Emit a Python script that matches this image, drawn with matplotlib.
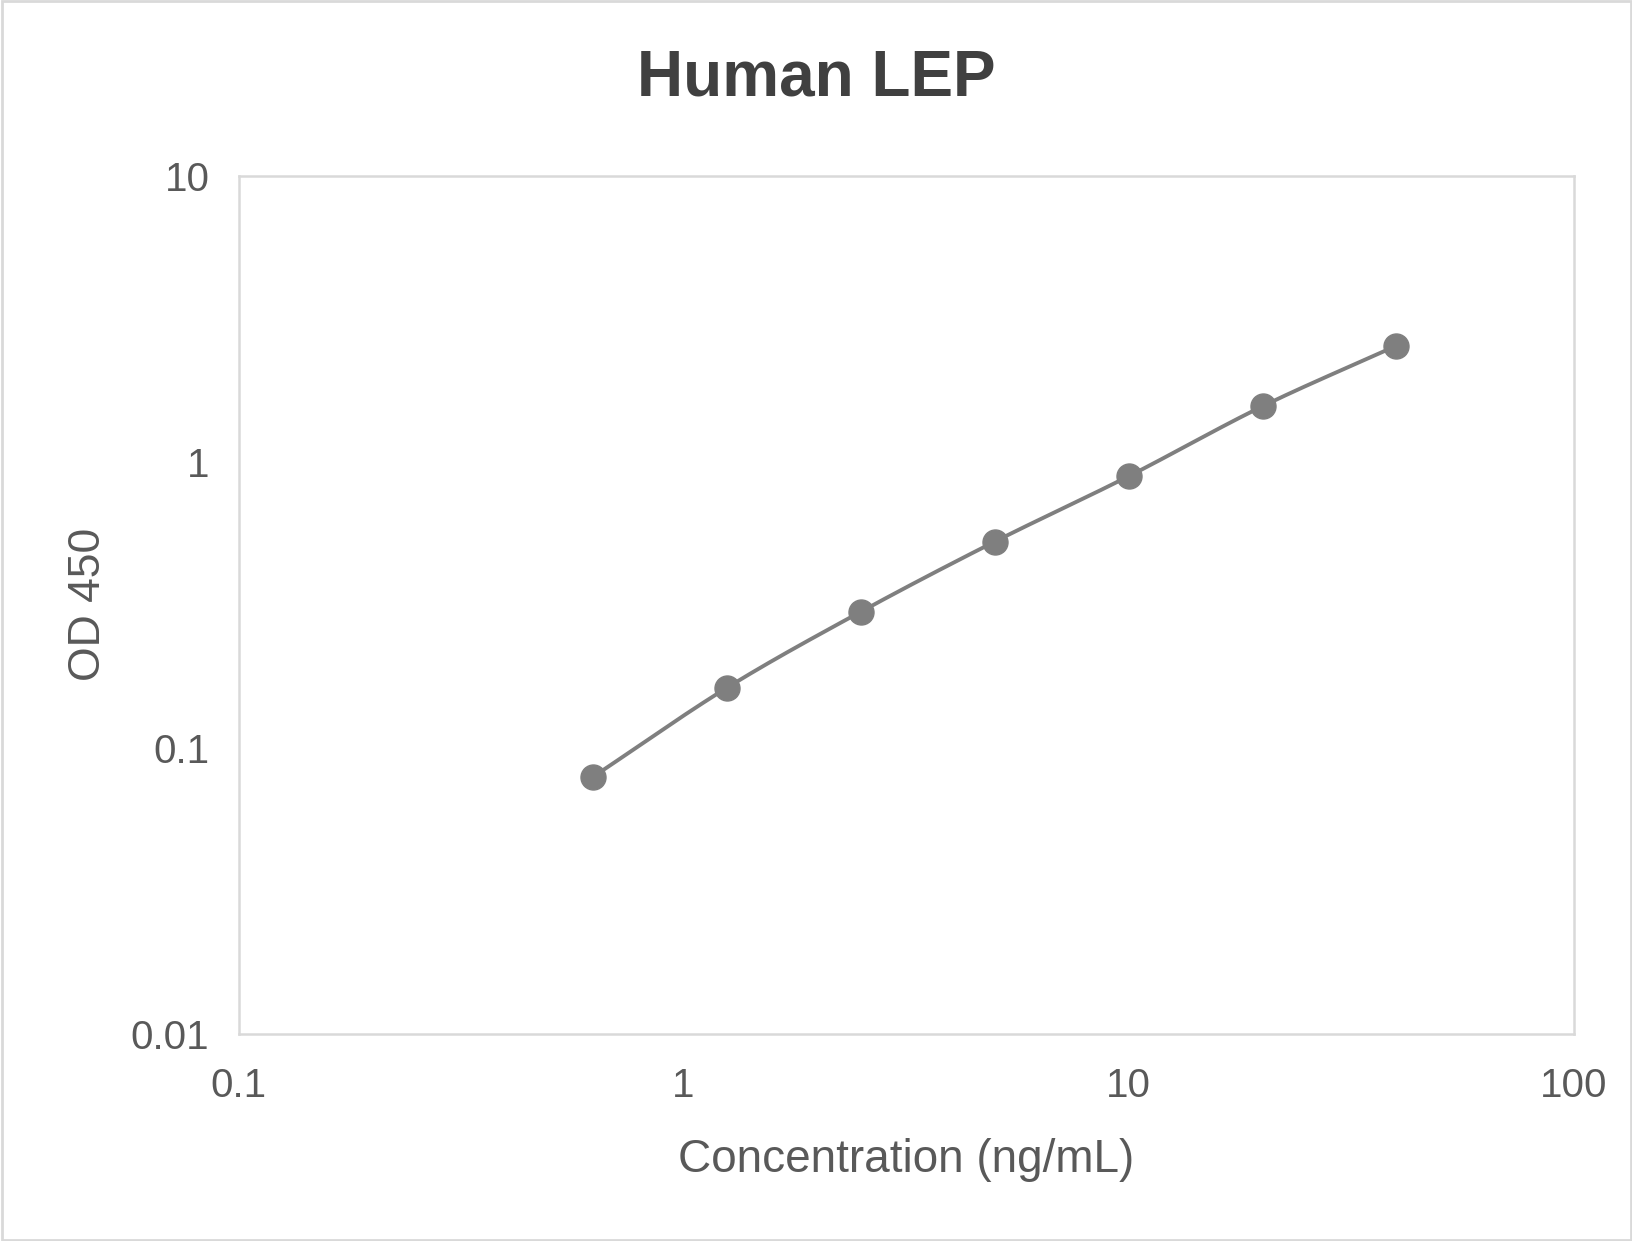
import numpy as np
import matplotlib
matplotlib.use('Agg')
import matplotlib.pyplot as plt
from matplotlib.patches import Rectangle

plt.rcParams['font.family'] = ['Liberation Sans', 'DejaVu Sans']

# standard curve
concentration = [0.625, 1.25, 2.5, 5, 10, 20, 40]
od450 = [0.079, 0.162, 0.299, 0.526, 0.891, 1.566, 2.55]

TEXT = '#595959'
LINE = '#7f7f7f'
SPINE = '#d9d9d9'


def smoothLine(x, y, n=30):
    # catmull-rom through the points in log space, like Excel's smoothed line
    lx = np.log10(x)
    ly = np.log10(y)
    px = np.concatenate([[2*lx[0]-lx[1]], lx, [2*lx[-1]-lx[-2]]])
    py = np.concatenate([[2*ly[0]-ly[1]], ly, [2*ly[-1]-ly[-2]]])
    outx, outy = [], []
    t = np.linspace(0, 1, n)
    for i in range(1, len(px)-2):
        for p, out in ((px, outx), (py, outy)):
            p0, p1, p2, p3 = p[i-1], p[i], p[i+1], p[i+2]
            seg = 0.5*((2*p1) + (-p0+p2)*t + (2*p0-5*p1+4*p2-p3)*t**2 + (-p0+3*p1-3*p2+p3)*t**3)
            out.extend(seg)
    return 10**np.array(outx), 10**np.array(outy)


fig = plt.figure(figsize=(16.33, 12.41), dpi=100)
ax = fig.add_axes([0.1461, 0.1671, 0.9636-0.1461, 0.8581-0.1671])

sx, sy = smoothLine(concentration, od450)
ax.plot(sx, sy, color=LINE, lw=2.8, zorder=2)
ax.plot(concentration, od450, 'o', color=LINE, ms=18, zorder=3)

ax.set_xscale('log')
ax.set_yscale('log')
ax.set_xlim(0.1, 100)
ax.set_ylim(0.01, 10)
ax.set_xticks([0.1, 1, 10, 100])
ax.set_xticklabels(['0.1', '1', '10', '100'])
ax.set_yticks([0.01, 0.1, 1, 10])
ax.set_yticklabels(['0.01', '0.1', '1', '10'])
ax.minorticks_off()
ax.tick_params(length=0, labelsize=29, colors=TEXT)
ax.tick_params(axis='y', pad=21)
ax.tick_params(axis='x', pad=24)
for s in ax.spines.values():
    s.set_color(SPINE)
    s.set_linewidth(1.8)

ax.set_xlabel('Concentration (ng/mL)', fontsize=33, color=TEXT, labelpad=24)
ax.set_ylabel('OD 450', fontsize=32, color=TEXT, labelpad=16)

fig.text(0.5, 0.9365, 'Human LEP', ha='center', va='center', fontsize=46,
         fontweight='bold', color='#404040')

fig.patches.append(Rectangle((0.001, 0.001), 0.998, 0.998, transform=fig.transFigure,
                             fill=False, edgecolor=SPINE, lw=2))

plt.savefig('out.png', dpi=100)
